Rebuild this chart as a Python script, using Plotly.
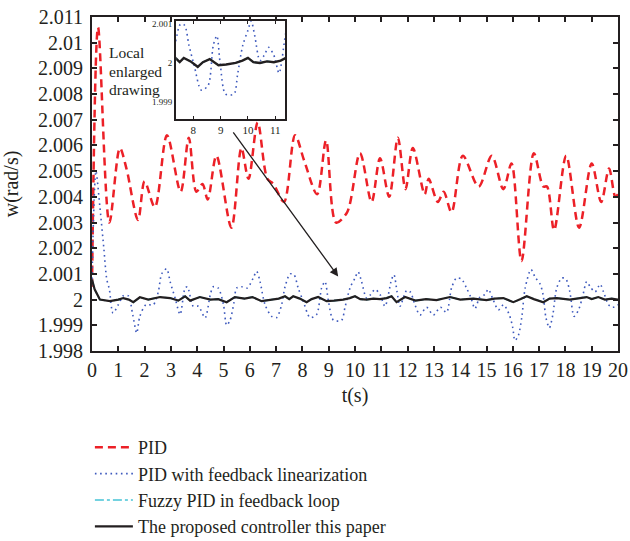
import plotly.graph_objects as go

# ---------------- data ----------------
pid_t = [0.0, 0.23, 0.66, 1.06, 1.31, 1.75, 2.0, 2.39, 2.85, 3.37, 3.68, 3.97, 4.2, 4.4,
         4.73, 5.3, 5.68, 5.95, 6.3, 6.67, 6.9, 7.3, 7.72, 8.07, 8.56, 8.9, 9.28, 9.7,
         10.19, 10.63, 10.95, 11.3, 11.63, 11.92, 12.2, 12.65, 12.8, 13.15, 13.37, 13.67,
         14.1, 14.7, 15.2, 15.64, 15.95, 16.33, 16.8, 17.16, 17.3, 17.57, 18.03, 18.52,
         19.0, 19.36, 19.66, 19.9, 20.0]
pid_v = [2.0005, 2.0106, 2.0030, 2.0059, 2.0051, 2.0031, 2.0046, 2.0036, 2.0064, 2.0042,
         2.0063, 2.0042, 2.0045, 2.0039, 2.0056, 2.0028, 2.0059, 2.0047, 2.0069, 2.0047,
         2.0045, 2.0038, 2.0064, 2.0054, 2.0041, 2.0062, 2.0030, 2.0034, 2.0057, 2.0038,
         2.0055, 2.0040, 2.0063, 2.0043, 2.0059, 2.0041, 2.0047, 2.0038, 2.0042, 2.0034,
         2.0056, 2.0044, 2.0056, 2.0043, 2.0053, 2.0015, 2.0057, 2.0044, 2.0044, 2.0027,
         2.0056, 2.0028, 2.0053, 2.0038, 2.0051, 2.0040, 2.0041]

fl_t = [0.0, 0.15, 0.3, 0.45, 0.56, 0.66, 0.8, 1.0, 1.19, 1.38, 1.55, 1.7, 1.82, 2.05,
        2.33, 2.52, 2.65, 2.84, 2.97, 3.16, 3.35, 3.54, 3.63, 3.85, 4.05, 4.3, 4.5, 4.61,
        4.8, 5.0, 5.12, 5.25, 5.4, 5.5, 5.69, 5.9, 6.13, 6.26, 6.39, 6.58, 6.83, 7.02,
        7.21, 7.34, 7.53, 7.68, 7.84, 8.03, 8.29, 8.54, 8.73, 8.86, 8.99, 9.18, 9.49,
        9.62, 9.81, 10.0, 10.12, 10.25, 10.44, 10.6, 10.76, 10.95, 11.14, 11.39, 11.48,
        11.6, 11.71, 11.96, 12.1, 12.28, 12.47, 12.72, 12.98, 13.25, 13.48, 13.67, 13.86,
        14.05, 14.24, 14.4, 14.56, 14.75, 14.94, 15.07, 15.25, 15.45, 15.65, 15.87, 16.0,
        16.08, 16.21, 16.34, 16.47, 16.69, 16.85, 17.04, 17.15, 17.26, 17.39, 17.52,
        17.67, 17.86, 18.02, 18.17, 18.33, 18.5, 18.65, 18.81, 18.94, 19.13, 19.32,
        19.45, 19.64, 19.8, 20.0]
fl_v = [2.0008, 2.0050, 2.0036, 2.0020, 2.0008, 2.0004, 1.99948, 1.9998, 2.00015, 2.00015,
        1.9994, 1.9987, 1.99935, 1.9998, 1.9998, 2.0003, 2.0010, 2.0012, 2.0007, 2.00006,
        1.99942, 2.00045, 2.0005, 1.99974, 1.99974, 1.99929, 2.0002, 2.0005, 2.00045,
        1.9998, 1.9990, 1.9992, 1.9999, 2.00045, 2.0005, 2.00045, 2.00084, 2.0011,
        2.0007, 1.9998, 1.99935, 1.9993, 1.9998, 2.0005, 2.0010, 2.00097, 2.00045,
        1.99994, 1.9993, 1.99942, 2.00045, 2.0007, 1.99994, 1.9992, 1.9992, 1.9997,
        2.00045, 2.00084, 2.00108, 2.0007, 2.00006, 2.0002, 2.0004, 2.0002, 1.99974,
        2.00078, 2.00097, 2.0003, 1.99974, 2.00035, 2.0003, 1.9998, 1.9994, 1.9997,
        1.9994, 1.9997, 1.9995, 2.00045, 2.00084, 2.0008, 2.00045, 2.0001, 1.99965,
        2.0001, 2.0002, 2.0004, 2.0000, 1.9996, 1.9998, 1.9994, 1.9989, 1.99841, 1.9986,
        1.9993, 2.00045, 2.00117, 2.00087, 2.0006, 2.0002, 1.9993, 1.9989, 1.9994,
        2.00045, 2.00084, 2.0008, 2.0003, 1.99935, 1.9996, 2.0001, 2.0007, 2.0005,
        2.0003, 2.0006, 2.0003, 1.9998, 1.9997, 1.9998]

pr_t = [0.0, 0.1, 0.3, 0.68, 1.0, 1.19, 1.4, 1.57, 1.82, 2.14, 2.59, 2.97, 3.28, 3.54,
        3.73, 4.1, 4.5, 4.8, 5.12, 5.43, 5.8, 6.1, 6.45, 6.8, 7.1, 7.34, 7.5, 7.65, 7.9,
        8.16, 8.35, 8.6, 8.92, 9.2, 9.55, 9.8, 10.0, 10.2, 10.44, 10.7, 10.95, 11.2, 11.39,
        11.58, 11.9, 12.3, 12.7, 13.1, 13.61, 14.0, 14.5, 15.0, 15.3, 15.64, 16.02,
        16.3, 16.53, 16.8, 17.16, 17.4, 17.67, 18.17, 18.5, 18.81, 19.0, 19.25, 19.5,
        19.76, 20.0]
pr_v = [2.00078, 2.0004, 2.0000, 1.99994, 2.0, 2.00006, 2.0, 1.9999, 2.00009, 2.0,
        2.0001, 2.00006, 1.99996, 2.00013, 1.99996, 2.0001, 2.0, 2.00002, 1.9999, 2.0001,
        2.00004, 2.0001, 1.99994, 1.99998, 2.00004, 2.00013, 2.00002, 2.00013, 2.00004,
        1.9999, 2.00002, 2.0001, 1.99994, 1.99996, 2.0, 2.00006, 2.00013, 2.00002,
        2.0, 2.00004, 2.00002, 2.00006, 2.00013, 1.9999, 2.0001, 1.99996, 2.00002,
        1.99998, 2.0001, 2.0, 2.00004, 1.99998, 2.00004, 2.00006, 1.9999, 2.00002,
        2.00013, 2.00002, 1.9999, 2.00004, 2.00006, 2.0, 2.00004, 2.0001, 2.00002,
        2.0001, 2.0, 2.00004, 2.0]

# fuzzy PID curve: in the reference it lies under the proposed-controller curve
fz_t = list(pr_t)
fz_v = list(pr_v)

series_names = ["PID", "PID with feedback linearization", "Fuzzy PID in feedback loop",
                "The proposed controller this paper"]

x_ticks = list(range(0, 21))
y_tickvals = [1.998, 1.999, 2.0, 2.001, 2.002, 2.003, 2.004, 2.005, 2.006, 2.007, 2.008,
              2.009, 2.01, 2.011]
y_ticktext = ["1.998", "1.999", "2", "2.001", "2.002", "2.003", "2.004", "2.005", "2.006",
              "2.007", "2.008", "2.009", "2.01", "2.011"]
inset_xticks = [8, 9, 10, 11]
inset_yvals = [1.999, 2.0, 2.001]
inset_ytext = ["1.999", "2", "2.001"]
note_lines = ["Local", "enlarged", "drawing"]

# ---------------- styling ----------------
FONT = "Liberation Serif"
INK = "#231f20"
RED = "#ec2027"
BLUE = "#3d59bd"
CYAN = "#45c3d6"

W, H = 630, 541
PLOT_L, PLOT_R, PLOT_T, PLOT_B = 92, 618, 17, 351
PW, PH = PLOT_R - PLOT_L, PLOT_B - PLOT_T

fig = go.Figure()

fig.add_trace(go.Scatter(x=pid_t, y=pid_v, mode="lines", name=series_names[0],
                         line=dict(color=RED, width=2.5, dash="8px,5px", shape="spline",
                                   smoothing=0.9)))
fig.add_trace(go.Scatter(x=fl_t, y=fl_v, mode="lines", name=series_names[1],
                         line=dict(color=BLUE, width=1.6, dash="1.6px,3.6px",
                                   shape="spline", smoothing=0.8)))
fig.add_trace(go.Scatter(x=fz_t, y=fz_v, mode="lines", name=series_names[2],
                         line=dict(color=CYAN, width=1.6, dash="dashdot")))
fig.add_trace(go.Scatter(x=pr_t, y=pr_v, mode="lines", name=series_names[3],
                         line=dict(color=INK, width=2.2)))

# inset (same data, zoomed)
fig.add_trace(go.Scatter(x=fl_t, y=fl_v, mode="lines", xaxis="x2", yaxis="y2",
                         showlegend=False, hoverinfo="skip",
                         line=dict(color=BLUE, width=1.6, dash="1.6px,3.6px",
                                   shape="spline", smoothing=0.8)))
fig.add_trace(go.Scatter(x=fz_t, y=fz_v, mode="lines", xaxis="x2", yaxis="y2",
                         showlegend=False, hoverinfo="skip",
                         line=dict(color=CYAN, width=1.6, dash="dashdot")))
fig.add_trace(go.Scatter(x=pr_t, y=pr_v, mode="lines", xaxis="x2", yaxis="y2",
                         showlegend=False, hoverinfo="skip",
                         line=dict(color=INK, width=2.4)))

axis_common = dict(showline=True, linecolor=INK, linewidth=2, mirror="ticks",
                   ticks="inside", tickcolor=INK, ticklen=5, tickwidth=1.5,
                   showgrid=False, zeroline=False)

fig.update_layout(
    width=W, height=H,
    margin=dict(l=PLOT_L, r=W - PLOT_R, t=PLOT_T, b=H - PLOT_B, pad=0,
                autoexpand=False),
    paper_bgcolor="white", plot_bgcolor="white",
    font=dict(family=FONT, color=INK, size=20),
    xaxis=dict(range=[0, 20], tickvals=x_ticks, domain=[0, 1],
               tickfont=dict(size=20, family=FONT, color=INK),
               title=dict(text="t(s)", font=dict(size=20, family=FONT, color=INK),
                          standoff=8),
               **axis_common),
    yaxis=dict(range=[1.998, 2.011], tickvals=y_tickvals, ticktext=y_ticktext,
               domain=[0, 1], ticklabelstandoff=3,
               tickfont=dict(size=20, family=FONT, color=INK),
               title=dict(text="w(rad/s)", font=dict(size=20, family=FONT, color=INK),
                          standoff=14),
               **axis_common),
    xaxis2=dict(range=[7.37, 11.36], tickvals=inset_xticks, domain=[0.16, 0.367],
                anchor="y2", tickfont=dict(size=11, family=FONT, color=INK),
                showline=True, linecolor=INK, linewidth=2, mirror="ticks",
                ticks="inside", tickcolor=INK, ticklen=3, tickwidth=1,
                showgrid=False, zeroline=False),
    yaxis2=dict(range=[1.99856, 2.00108], tickvals=inset_yvals, ticktext=inset_ytext,
                domain=[0.695, 0.988], anchor="x2",
                tickfont=dict(size=9, family=FONT, color=INK),
                showline=True, linecolor=INK, linewidth=2, mirror=True,
                ticks="", showgrid=False, zeroline=False),
    legend=dict(x=-0.004, xref="paper", y=1 - 429 / H, yref="container",
                xanchor="left", yanchor="top",
                bgcolor="rgba(0,0,0,0)", borderwidth=0,
                font=dict(size=18, family=FONT, color=INK),
                itemwidth=38, tracegroupgap=0),
    showlegend=True,
)

fig.add_annotation(x=9.36, y=2.0009, ax=5.33, ay=2.00657, xref="x", yref="y",
                   axref="x", ayref="y", showarrow=True, arrowhead=2, arrowsize=1.3,
                   arrowwidth=1.3, arrowcolor=INK, text="")
for line_text, y_px in zip(note_lines, [52, 71, 89]):
    fig.add_annotation(x=(107 - PLOT_L) / PW, y=(PLOT_B - y_px) / PH, xref="paper",
                       yref="paper", xanchor="left", yanchor="middle", align="left",
                       showarrow=False, text=line_text,
                       font=dict(size=15.5, family=FONT, color=INK))

fig.write_html("out.html")
